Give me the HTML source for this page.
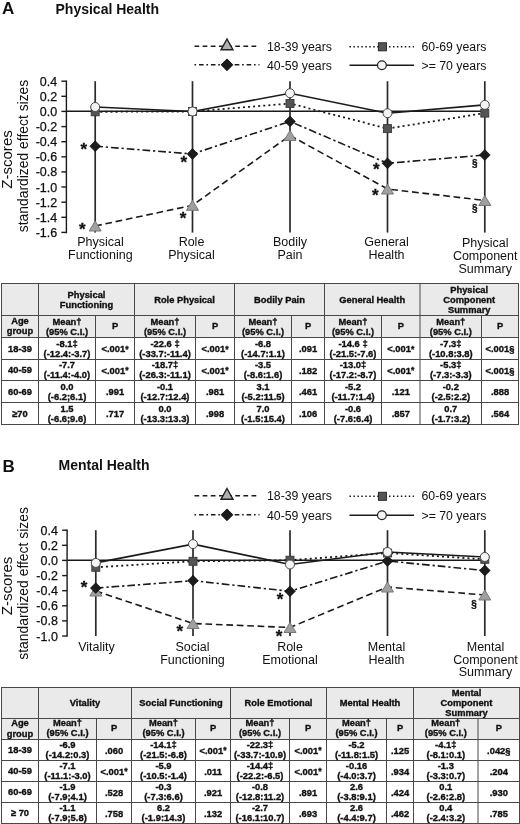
<!DOCTYPE html>
<html><head><meta charset="utf-8"><title>Figure</title>
<style>
html,body{margin:0;padding:0;background:#fff;}
body{width:520px;height:824px;overflow:hidden;font-family:"Liberation Sans", sans-serif;}
svg{display:block;font-family:"Liberation Sans", sans-serif;filter:grayscale(1);}
text{font-family:"Liberation Sans", sans-serif;fill:#111;}
.t{font-size:12.5px;}
.tk{font-size:12.5px;stroke:#111;stroke-width:0.25px;}
.lg{font-size:12.3px;}
.b{font-weight:bold;}
.th{font-size:9.33px;font-weight:bold;stroke:#111;stroke-width:0.35px;}
.td{font-size:9.4px;font-weight:bold;stroke:#111;stroke-width:0.35px;}
</style></head><body>
<svg width="520" height="824" viewBox="0 0 520 824">
<rect x="0" y="0" width="520" height="824" fill="#ffffff"/>
<text x="2.1" y="14.4" class="b" style="font-size:17px">A</text>
<text x="55.5" y="13.7" class="b" style="font-size:14px">Physical Health</text>
<line x1="194.5" y1="46.3" x2="259.5" y2="46.3" stroke="#1a1a1a" stroke-width="1.4" stroke-dasharray="4.7,3.45"/>
<polygon points="227.0,39.0 233.0,49.8 221.0,49.8" fill="#b0b0b0" stroke="#222" stroke-width="1.4" stroke-linejoin="miter"/>
<line x1="194.5" y1="64.8" x2="259.5" y2="64.8" stroke="#1a1a1a" stroke-width="1.4" stroke-dasharray="1.6,2.9,4.6,2.8"/>
<polygon points="227.0,58.9 232.9,64.8 227.0,70.7 221.1,64.8" fill="#1c1c1c" stroke="#000" stroke-width="0.8"/>
<text x="267" y="50.9" class="lg">18-39 years</text>
<text x="267" y="69.8" class="lg">40-59 years</text>
<line x1="349.5" y1="46.8" x2="414.0" y2="46.8" stroke="#1a1a1a" stroke-width="1.6" stroke-dasharray="1.5,2.45"/>
<rect x="378.4" y="42.8" width="8.0" height="8.0" fill="#555555" stroke="#2a2a2a" stroke-width="1.0"/>
<line x1="349.5" y1="65.3" x2="414.0" y2="65.3" stroke="#1a1a1a" stroke-width="1.4"/>
<circle cx="381.9" cy="65.3" r="4.4" fill="#f4f4f4" stroke="#222" stroke-width="1.2"/>
<text x="421.5" y="50.9" class="lg">60-69 years</text>
<text x="421.5" y="69.8" class="lg">&gt;= 70 years</text>
<text transform="translate(12.4,159.5) rotate(-90)" text-anchor="middle" textLength="58.6" lengthAdjust="spacingAndGlyphs" style="font-size:14.4px">Z-scores</text>
<text transform="translate(28.3,156.0) rotate(-90)" text-anchor="middle" textLength="152.6" lengthAdjust="spacingAndGlyphs" style="font-size:13.9px">standardized effect sizes</text>
<line x1="66.4" y1="80.5" x2="66.4" y2="233.3" stroke="#1a1a1a" stroke-width="1.4"/>
<line x1="61.4" y1="81.2" x2="66.4" y2="81.2" stroke="#1a1a1a" stroke-width="1.4"/>
<text x="57.2" y="85.7" text-anchor="end" class="tk">0.4</text>
<line x1="61.4" y1="96.3" x2="66.4" y2="96.3" stroke="#1a1a1a" stroke-width="1.4"/>
<text x="57.2" y="100.8" text-anchor="end" class="tk">0.2</text>
<line x1="61.4" y1="111.4" x2="66.4" y2="111.4" stroke="#1a1a1a" stroke-width="1.4"/>
<text x="57.2" y="115.9" text-anchor="end" class="tk">0.0</text>
<line x1="61.4" y1="126.6" x2="66.4" y2="126.6" stroke="#1a1a1a" stroke-width="1.4"/>
<text x="57.2" y="131.1" text-anchor="end" class="tk">-0.2</text>
<line x1="61.4" y1="141.7" x2="66.4" y2="141.7" stroke="#1a1a1a" stroke-width="1.4"/>
<text x="57.2" y="146.2" text-anchor="end" class="tk">-0.4</text>
<line x1="61.4" y1="156.8" x2="66.4" y2="156.8" stroke="#1a1a1a" stroke-width="1.4"/>
<text x="57.2" y="161.3" text-anchor="end" class="tk">-0.6</text>
<line x1="61.4" y1="171.9" x2="66.4" y2="171.9" stroke="#1a1a1a" stroke-width="1.4"/>
<text x="57.2" y="176.4" text-anchor="end" class="tk">-0.8</text>
<line x1="61.4" y1="187.0" x2="66.4" y2="187.0" stroke="#1a1a1a" stroke-width="1.4"/>
<text x="57.2" y="191.5" text-anchor="end" class="tk">-1.0</text>
<line x1="61.4" y1="202.2" x2="66.4" y2="202.2" stroke="#1a1a1a" stroke-width="1.4"/>
<text x="57.2" y="206.7" text-anchor="end" class="tk">-1.2</text>
<line x1="61.4" y1="217.3" x2="66.4" y2="217.3" stroke="#1a1a1a" stroke-width="1.4"/>
<text x="57.2" y="221.8" text-anchor="end" class="tk">-1.4</text>
<line x1="61.4" y1="232.4" x2="66.4" y2="232.4" stroke="#1a1a1a" stroke-width="1.4"/>
<text x="57.2" y="236.9" text-anchor="end" class="tk">-1.6</text>
<line x1="66.4" y1="111.3" x2="484.8" y2="111.3" stroke="#1a1a1a" stroke-width="1.5"/>
<line x1="95.2" y1="81.2" x2="95.2" y2="232.6" stroke="#2a2a2a" stroke-width="1.7"/>
<line x1="192.5" y1="81.2" x2="192.5" y2="232.6" stroke="#2a2a2a" stroke-width="1.7"/>
<line x1="290.0" y1="81.2" x2="290.0" y2="232.6" stroke="#2a2a2a" stroke-width="1.7"/>
<line x1="387.5" y1="81.2" x2="387.5" y2="232.6" stroke="#2a2a2a" stroke-width="1.7"/>
<line x1="484.8" y1="81.2" x2="484.8" y2="232.6" stroke="#2a2a2a" stroke-width="1.7"/>
<polyline points="95.2,226.0 192.5,205.3 290.0,135.5 387.5,189.0 484.8,200.5" fill="none" stroke="#1a1a1a" stroke-width="1.6" stroke-dasharray="6.7,3.75"/>
<polygon points="95.2,221.0 101.2,231.0 89.2,231.0" fill="#a0a0a0" stroke="#787878" stroke-width="1.0" stroke-linejoin="miter"/>
<polygon points="192.5,200.3 198.5,210.3 186.5,210.3" fill="#a0a0a0" stroke="#787878" stroke-width="1.0" stroke-linejoin="miter"/>
<polygon points="290.0,130.5 296.0,140.5 284.0,140.5" fill="#a0a0a0" stroke="#787878" stroke-width="1.0" stroke-linejoin="miter"/>
<polygon points="387.5,184.0 393.5,194.0 381.5,194.0" fill="#a0a0a0" stroke="#787878" stroke-width="1.0" stroke-linejoin="miter"/>
<polygon points="484.8,195.5 490.8,205.5 478.8,205.5" fill="#a0a0a0" stroke="#787878" stroke-width="1.0" stroke-linejoin="miter"/>
<polyline points="95.2,146.2 192.5,154.0 290.0,121.4 387.5,163.3 484.8,155.0" fill="none" stroke="#1a1a1a" stroke-width="1.6" stroke-dasharray="7.7,2.9,2.3,2.9"/>
<polygon points="95.2,140.8 100.6,146.2 95.2,151.6 89.8,146.2" fill="#1c1c1c" stroke="#000" stroke-width="0.6"/>
<polygon points="192.5,148.6 197.9,154.0 192.5,159.4 187.1,154.0" fill="#1c1c1c" stroke="#000" stroke-width="0.6"/>
<polygon points="290.0,116.0 295.4,121.4 290.0,126.8 284.6,121.4" fill="#1c1c1c" stroke="#000" stroke-width="0.6"/>
<polygon points="387.5,157.9 392.9,163.3 387.5,168.7 382.1,163.3" fill="#1c1c1c" stroke="#000" stroke-width="0.6"/>
<polygon points="484.8,149.6 490.2,155.0 484.8,160.4 479.4,155.0" fill="#1c1c1c" stroke="#000" stroke-width="0.6"/>
<polyline points="95.2,111.8 192.5,111.5 290.0,103.5 387.5,128.6 484.8,113.1" fill="none" stroke="#1a1a1a" stroke-width="1.8" stroke-dasharray="2.0,3.1"/>
<rect x="91.2" y="107.8" width="8.0" height="8.0" fill="#555555" stroke="#3a3a3a" stroke-width="0.9"/>
<rect x="188.5" y="107.5" width="8.0" height="8.0" fill="#555555" stroke="#3a3a3a" stroke-width="0.9"/>
<rect x="286.0" y="99.5" width="8.0" height="8.0" fill="#555555" stroke="#3a3a3a" stroke-width="0.9"/>
<rect x="383.5" y="124.6" width="8.0" height="8.0" fill="#555555" stroke="#3a3a3a" stroke-width="0.9"/>
<rect x="480.8" y="109.1" width="8.0" height="8.0" fill="#555555" stroke="#3a3a3a" stroke-width="0.9"/>
<polyline points="95.2,107.0 192.5,111.5 290.0,93.2 387.5,113.2 484.8,104.9" fill="none" stroke="#1a1a1a" stroke-width="1.6"/>
<circle cx="95.2" cy="107.0" r="4.5" fill="#f4f4f4" stroke="#484848" stroke-width="1.0"/>
<circle cx="192.5" cy="111.5" r="4.5" fill="#f4f4f4" stroke="#484848" stroke-width="1.0"/>
<circle cx="290.0" cy="93.2" r="4.5" fill="#f4f4f4" stroke="#484848" stroke-width="1.0"/>
<circle cx="387.5" cy="113.2" r="4.5" fill="#f4f4f4" stroke="#484848" stroke-width="1.0"/>
<circle cx="484.8" cy="104.9" r="4.5" fill="#f4f4f4" stroke="#484848" stroke-width="1.0"/>
<text x="83.7" y="155.2" text-anchor="middle" class="b" style="font-size:17px;stroke:#111;stroke-width:0.3px">*</text>
<text x="82.3" y="234.7" text-anchor="middle" class="b" style="font-size:17px;stroke:#111;stroke-width:0.3px">*</text>
<text x="183.7" y="168.2" text-anchor="middle" class="b" style="font-size:17px;stroke:#111;stroke-width:0.3px">*</text>
<text x="183.0" y="224.2" text-anchor="middle" class="b" style="font-size:17px;stroke:#111;stroke-width:0.3px">*</text>
<text x="376.3" y="175.0" text-anchor="middle" class="b" style="font-size:17px;stroke:#111;stroke-width:0.3px">*</text>
<text x="375.3" y="201.2" text-anchor="middle" class="b" style="font-size:17px;stroke:#111;stroke-width:0.3px">*</text>
<text x="474.7" y="167.2" text-anchor="middle" class="b" style="font-size:10px;stroke:#111;stroke-width:0.3px">&#167;</text>
<text x="474.7" y="212.2" text-anchor="middle" class="b" style="font-size:10px;stroke:#111;stroke-width:0.3px">&#167;</text>
<text x="100.4" y="246.0" text-anchor="middle" class="t">Physical</text>
<text x="100.4" y="259.2" text-anchor="middle" class="t">Functioning</text>
<text x="191.5" y="246.0" text-anchor="middle" class="t">Role</text>
<text x="191.5" y="259.2" text-anchor="middle" class="t">Physical</text>
<text x="290.0" y="246.0" text-anchor="middle" class="t">Bodily</text>
<text x="290.0" y="259.2" text-anchor="middle" class="t">Pain</text>
<text x="386.5" y="246.0" text-anchor="middle" class="t">General</text>
<text x="386.5" y="259.2" text-anchor="middle" class="t">Health</text>
<text x="485.2" y="246.8" text-anchor="middle" class="t">Physical</text>
<text x="485.2" y="260.0" text-anchor="middle" class="t">Component</text>
<text x="485.2" y="273.2" text-anchor="middle" class="t">Summary</text>
<text x="2.5" y="471.8" class="b" style="font-size:17px">B</text>
<text x="58.5" y="469.6" class="b" style="font-size:14px">Mental Health</text>
<line x1="194.5" y1="495.8" x2="259.5" y2="495.8" stroke="#1a1a1a" stroke-width="1.4" stroke-dasharray="4.7,3.45"/>
<polygon points="227.0,488.5 233.0,499.3 221.0,499.3" fill="#b0b0b0" stroke="#222" stroke-width="1.4" stroke-linejoin="miter"/>
<line x1="194.5" y1="514.8" x2="259.5" y2="514.8" stroke="#1a1a1a" stroke-width="1.4" stroke-dasharray="1.6,2.9,4.6,2.8"/>
<polygon points="227.0,508.9 232.9,514.8 227.0,520.7 221.1,514.8" fill="#1c1c1c" stroke="#000" stroke-width="0.8"/>
<text x="267" y="500.4" class="lg">18-39 years</text>
<text x="267" y="519.8" class="lg">40-59 years</text>
<line x1="349.5" y1="496.3" x2="414.0" y2="496.3" stroke="#1a1a1a" stroke-width="1.6" stroke-dasharray="1.5,2.45"/>
<rect x="378.4" y="492.3" width="8.0" height="8.0" fill="#555555" stroke="#2a2a2a" stroke-width="1.0"/>
<line x1="349.5" y1="515.3" x2="414.0" y2="515.3" stroke="#1a1a1a" stroke-width="1.4"/>
<circle cx="381.9" cy="515.3" r="4.4" fill="#f4f4f4" stroke="#222" stroke-width="1.2"/>
<text x="421.5" y="500.4" class="lg">60-69 years</text>
<text x="421.5" y="519.8" class="lg">&gt;= 70 years</text>
<text transform="translate(12.4,585.9) rotate(-90)" text-anchor="middle" textLength="58.6" lengthAdjust="spacingAndGlyphs" style="font-size:14.4px">Z-scores</text>
<text transform="translate(28.3,583.4) rotate(-90)" text-anchor="middle" textLength="152.6" lengthAdjust="spacingAndGlyphs" style="font-size:13.9px">standardized effect sizes</text>
<line x1="67.1" y1="529.5" x2="67.1" y2="636.7" stroke="#1a1a1a" stroke-width="1.4"/>
<line x1="62.1" y1="530.2" x2="67.1" y2="530.2" stroke="#1a1a1a" stroke-width="1.4"/>
<text x="57.9" y="534.7" text-anchor="end" class="tk">0.4</text>
<line x1="62.1" y1="545.3" x2="67.1" y2="545.3" stroke="#1a1a1a" stroke-width="1.4"/>
<text x="57.9" y="549.8" text-anchor="end" class="tk">0.2</text>
<line x1="62.1" y1="560.4" x2="67.1" y2="560.4" stroke="#1a1a1a" stroke-width="1.4"/>
<text x="57.9" y="564.9" text-anchor="end" class="tk">0.0</text>
<line x1="62.1" y1="575.6" x2="67.1" y2="575.6" stroke="#1a1a1a" stroke-width="1.4"/>
<text x="57.9" y="580.1" text-anchor="end" class="tk">-0.2</text>
<line x1="62.1" y1="590.7" x2="67.1" y2="590.7" stroke="#1a1a1a" stroke-width="1.4"/>
<text x="57.9" y="595.2" text-anchor="end" class="tk">-0.4</text>
<line x1="62.1" y1="605.8" x2="67.1" y2="605.8" stroke="#1a1a1a" stroke-width="1.4"/>
<text x="57.9" y="610.3" text-anchor="end" class="tk">-0.6</text>
<line x1="62.1" y1="620.9" x2="67.1" y2="620.9" stroke="#1a1a1a" stroke-width="1.4"/>
<text x="57.9" y="625.4" text-anchor="end" class="tk">-0.8</text>
<line x1="62.1" y1="636.0" x2="67.1" y2="636.0" stroke="#1a1a1a" stroke-width="1.4"/>
<text x="57.9" y="640.5" text-anchor="end" class="tk">-1.0</text>
<line x1="67.1" y1="560.3" x2="484.8" y2="560.3" stroke="#1a1a1a" stroke-width="1.5"/>
<line x1="95.8" y1="530.2" x2="95.8" y2="636.0" stroke="#2a2a2a" stroke-width="1.7"/>
<line x1="193.0" y1="530.2" x2="193.0" y2="636.0" stroke="#2a2a2a" stroke-width="1.7"/>
<line x1="290.0" y1="530.2" x2="290.0" y2="636.0" stroke="#2a2a2a" stroke-width="1.7"/>
<line x1="387.5" y1="530.2" x2="387.5" y2="636.0" stroke="#2a2a2a" stroke-width="1.7"/>
<line x1="484.8" y1="530.2" x2="484.8" y2="636.0" stroke="#2a2a2a" stroke-width="1.7"/>
<polyline points="95.8,591.0 193.0,623.5 290.0,627.5 387.5,587.0 484.8,595.0" fill="none" stroke="#1a1a1a" stroke-width="1.6" stroke-dasharray="6.7,3.75"/>
<polygon points="95.8,586.0 101.8,596.0 89.8,596.0" fill="#a0a0a0" stroke="#787878" stroke-width="1.0" stroke-linejoin="miter"/>
<polygon points="193.0,618.5 199.0,628.5 187.0,628.5" fill="#a0a0a0" stroke="#787878" stroke-width="1.0" stroke-linejoin="miter"/>
<polygon points="290.0,622.5 296.0,632.5 284.0,632.5" fill="#a0a0a0" stroke="#787878" stroke-width="1.0" stroke-linejoin="miter"/>
<polygon points="387.5,582.0 393.5,592.0 381.5,592.0" fill="#a0a0a0" stroke="#787878" stroke-width="1.0" stroke-linejoin="miter"/>
<polygon points="484.8,590.0 490.8,600.0 478.8,600.0" fill="#a0a0a0" stroke="#787878" stroke-width="1.0" stroke-linejoin="miter"/>
<polyline points="95.8,588.1 193.0,580.7 290.0,591.3 387.5,561.0 484.8,570.5" fill="none" stroke="#1a1a1a" stroke-width="1.6" stroke-dasharray="7.7,2.9,2.3,2.9"/>
<polygon points="95.8,582.7 101.2,588.1 95.8,593.5 90.4,588.1" fill="#1c1c1c" stroke="#000" stroke-width="0.6"/>
<polygon points="193.0,575.3 198.4,580.7 193.0,586.1 187.6,580.7" fill="#1c1c1c" stroke="#000" stroke-width="0.6"/>
<polygon points="290.0,585.9 295.4,591.3 290.0,596.7 284.6,591.3" fill="#1c1c1c" stroke="#000" stroke-width="0.6"/>
<polygon points="387.5,555.6 392.9,561.0 387.5,566.4 382.1,561.0" fill="#1c1c1c" stroke="#000" stroke-width="0.6"/>
<polygon points="484.8,565.1 490.2,570.5 484.8,575.9 479.4,570.5" fill="#1c1c1c" stroke="#000" stroke-width="0.6"/>
<polyline points="95.8,567.3 193.0,561.3 290.0,560.2 387.5,553.0 484.8,559.3" fill="none" stroke="#1a1a1a" stroke-width="1.8" stroke-dasharray="2.0,3.1"/>
<rect x="91.8" y="563.3" width="8.0" height="8.0" fill="#555555" stroke="#3a3a3a" stroke-width="0.9"/>
<rect x="189.0" y="557.3" width="8.0" height="8.0" fill="#555555" stroke="#3a3a3a" stroke-width="0.9"/>
<rect x="286.0" y="556.2" width="8.0" height="8.0" fill="#555555" stroke="#3a3a3a" stroke-width="0.9"/>
<rect x="383.5" y="549.0" width="8.0" height="8.0" fill="#555555" stroke="#3a3a3a" stroke-width="0.9"/>
<rect x="480.8" y="555.3" width="8.0" height="8.0" fill="#555555" stroke="#3a3a3a" stroke-width="0.9"/>
<polyline points="95.8,562.9 193.0,544.1 290.0,564.5 387.5,552.0 484.8,557.0" fill="none" stroke="#1a1a1a" stroke-width="1.6"/>
<circle cx="95.8" cy="562.9" r="4.5" fill="#f4f4f4" stroke="#484848" stroke-width="1.0"/>
<circle cx="193.0" cy="544.1" r="4.5" fill="#f4f4f4" stroke="#484848" stroke-width="1.0"/>
<circle cx="290.0" cy="564.5" r="4.5" fill="#f4f4f4" stroke="#484848" stroke-width="1.0"/>
<circle cx="387.5" cy="552.0" r="4.5" fill="#f4f4f4" stroke="#484848" stroke-width="1.0"/>
<circle cx="484.8" cy="557.0" r="4.5" fill="#f4f4f4" stroke="#484848" stroke-width="1.0"/>
<text x="84.0" y="592.6" text-anchor="middle" class="b" style="font-size:17px;stroke:#111;stroke-width:0.3px">*</text>
<text x="179.7" y="637.0" text-anchor="middle" class="b" style="font-size:17px;stroke:#111;stroke-width:0.3px">*</text>
<text x="280.0" y="605.2" text-anchor="middle" class="b" style="font-size:17px;stroke:#111;stroke-width:0.3px">*</text>
<text x="279.0" y="642.2" text-anchor="middle" class="b" style="font-size:17px;stroke:#111;stroke-width:0.3px">*</text>
<text x="474.0" y="607.6" text-anchor="middle" class="b" style="font-size:10px;stroke:#111;stroke-width:0.3px">&#167;</text>
<text x="96.5" y="650.8" text-anchor="middle" class="t">Vitality</text>
<text x="192.5" y="650.8" text-anchor="middle" class="t">Social</text>
<text x="192.5" y="663.6" text-anchor="middle" class="t">Functioning</text>
<text x="290.0" y="650.8" text-anchor="middle" class="t">Role</text>
<text x="290.0" y="663.6" text-anchor="middle" class="t">Emotional</text>
<text x="386.5" y="650.8" text-anchor="middle" class="t">Mental</text>
<text x="386.5" y="663.6" text-anchor="middle" class="t">Health</text>
<text x="485.5" y="650.8" text-anchor="middle" class="t">Mental</text>
<text x="485.5" y="663.6" text-anchor="middle" class="t">Component</text>
<text x="485.5" y="676.4" text-anchor="middle" class="t">Summary</text>
<rect x="1.5" y="283.5" width="517.0" height="54.0" fill="#eaeaea"/>
<line x1="1.0" y1="283.5" x2="519.0" y2="283.5" stroke="#484848" stroke-width="1"/>
<line x1="1.0" y1="315.5" x2="519.0" y2="315.5" stroke="#484848" stroke-width="1"/>
<line x1="1.0" y1="337.5" x2="519.0" y2="337.5" stroke="#484848" stroke-width="1"/>
<line x1="1.0" y1="359.5" x2="519.0" y2="359.5" stroke="#484848" stroke-width="1"/>
<line x1="1.0" y1="380.5" x2="519.0" y2="380.5" stroke="#484848" stroke-width="1"/>
<line x1="1.0" y1="402.5" x2="519.0" y2="402.5" stroke="#484848" stroke-width="1"/>
<line x1="1.0" y1="424.5" x2="519.0" y2="424.5" stroke="#484848" stroke-width="1"/>
<line x1="1.5" y1="283.5" x2="1.5" y2="424.5" stroke="#484848" stroke-width="1"/>
<line x1="38.5" y1="283.5" x2="38.5" y2="424.5" stroke="#484848" stroke-width="1"/>
<line x1="95.5" y1="315.5" x2="95.5" y2="424.5" stroke="#484848" stroke-width="1"/>
<line x1="134.5" y1="283.5" x2="134.5" y2="424.5" stroke="#484848" stroke-width="1"/>
<line x1="195.5" y1="315.5" x2="195.5" y2="424.5" stroke="#484848" stroke-width="1"/>
<line x1="234.5" y1="283.5" x2="234.5" y2="424.5" stroke="#484848" stroke-width="1"/>
<line x1="291.5" y1="315.5" x2="291.5" y2="424.5" stroke="#484848" stroke-width="1"/>
<line x1="324.5" y1="283.5" x2="324.5" y2="424.5" stroke="#484848" stroke-width="1"/>
<line x1="381.5" y1="315.5" x2="381.5" y2="424.5" stroke="#484848" stroke-width="1"/>
<line x1="420.0" y1="283.5" x2="420.0" y2="424.5" stroke="#484848" stroke-width="1"/>
<line x1="481.5" y1="315.5" x2="481.5" y2="424.5" stroke="#484848" stroke-width="1"/>
<line x1="518.5" y1="283.5" x2="518.5" y2="424.5" stroke="#484848" stroke-width="1"/>
<text x="86.5" y="297.8" text-anchor="middle" class="th">Physical</text>
<text x="86.5" y="308.0" text-anchor="middle" class="th">Functioning</text>
<text x="184.5" y="302.9" text-anchor="middle" class="th">Role Physical</text>
<text x="279.5" y="302.9" text-anchor="middle" class="th">Bodily Pain</text>
<text x="372.2" y="302.9" text-anchor="middle" class="th">General Health</text>
<text x="469.2" y="292.7" text-anchor="middle" class="th">Physical</text>
<text x="469.2" y="302.9" text-anchor="middle" class="th">Component</text>
<text x="469.2" y="313.1" text-anchor="middle" class="th">Summary</text>
<text x="20.0" y="323.9" text-anchor="middle" class="th">Age</text>
<text x="20.0" y="334.1" text-anchor="middle" class="th">group</text>
<text x="67.0" y="324.6" text-anchor="middle" class="th">Mean&#8224;</text>
<text x="67.0" y="335.0" text-anchor="middle" class="th">(95% C.I.)</text>
<text x="115.0" y="329.1" text-anchor="middle" class="th">P</text>
<text x="165.0" y="324.6" text-anchor="middle" class="th">Mean&#8224;</text>
<text x="165.0" y="335.0" text-anchor="middle" class="th">(95% C.I.)</text>
<text x="215.0" y="329.1" text-anchor="middle" class="th">P</text>
<text x="263.0" y="324.6" text-anchor="middle" class="th">Mean&#8224;</text>
<text x="263.0" y="335.0" text-anchor="middle" class="th">(95% C.I.)</text>
<text x="308.0" y="329.1" text-anchor="middle" class="th">P</text>
<text x="353.0" y="324.6" text-anchor="middle" class="th">Mean&#8224;</text>
<text x="353.0" y="335.0" text-anchor="middle" class="th">(95% C.I.)</text>
<text x="400.8" y="329.1" text-anchor="middle" class="th">P</text>
<text x="450.8" y="324.6" text-anchor="middle" class="th">Mean&#8224;</text>
<text x="450.8" y="335.0" text-anchor="middle" class="th">(95% C.I.)</text>
<text x="500.0" y="329.1" text-anchor="middle" class="th">P</text>
<text x="20.0" y="351.5" text-anchor="middle" class="th">18-39</text>
<text x="67.0" y="346.9" text-anchor="middle" class="td">-8.1&#8225;</text>
<text x="67.0" y="356.7" text-anchor="middle" class="td">(-12.4:-3.7)</text>
<text x="115.0" y="352.1" text-anchor="middle" class="td">&lt;.001<tspan style="font-size:8.6px" dy="-0.3">*</tspan></text>
<text x="165.0" y="346.9" text-anchor="middle" class="td">-22.6 &#8225;</text>
<text x="165.0" y="356.7" text-anchor="middle" class="td">(-33.7:-11.4)</text>
<text x="215.0" y="352.1" text-anchor="middle" class="td">&lt;.001<tspan style="font-size:8.6px" dy="-0.3">*</tspan></text>
<text x="263.0" y="346.9" text-anchor="middle" class="td">-6.8</text>
<text x="263.0" y="356.7" text-anchor="middle" class="td">(-14.7:1.1)</text>
<text x="308.0" y="352.1" text-anchor="middle" class="td">.091</text>
<text x="353.0" y="346.9" text-anchor="middle" class="td">-14.6 &#8225;</text>
<text x="353.0" y="356.7" text-anchor="middle" class="td">(-21.5:-7.6)</text>
<text x="400.8" y="352.1" text-anchor="middle" class="td">&lt;.001<tspan style="font-size:8.6px" dy="-0.3">*</tspan></text>
<text x="450.8" y="346.9" text-anchor="middle" class="td">-7.3&#8225;</text>
<text x="450.8" y="356.7" text-anchor="middle" class="td">(-10.8:3.8)</text>
<text x="500.0" y="352.1" text-anchor="middle" class="td">&lt;.001&#167;</text>
<text x="20.0" y="373.0" text-anchor="middle" class="th">40-59</text>
<text x="67.0" y="368.4" text-anchor="middle" class="td">-7.7</text>
<text x="67.0" y="378.2" text-anchor="middle" class="td">(-11.4:-4.0)</text>
<text x="115.0" y="373.6" text-anchor="middle" class="td">&lt;.001<tspan style="font-size:8.6px" dy="-0.3">*</tspan></text>
<text x="165.0" y="368.4" text-anchor="middle" class="td">-18.7&#8225;</text>
<text x="165.0" y="378.2" text-anchor="middle" class="td">(-26.3:-11.1)</text>
<text x="215.0" y="373.6" text-anchor="middle" class="td">&lt;.001<tspan style="font-size:8.6px" dy="-0.3">*</tspan></text>
<text x="263.0" y="368.4" text-anchor="middle" class="td">-3.5</text>
<text x="263.0" y="378.2" text-anchor="middle" class="td">(-8.6:1.6)</text>
<text x="308.0" y="373.6" text-anchor="middle" class="td">.182</text>
<text x="353.0" y="368.4" text-anchor="middle" class="td">-13.0&#8225;</text>
<text x="353.0" y="378.2" text-anchor="middle" class="td">(-17.2:-8.7)</text>
<text x="400.8" y="373.6" text-anchor="middle" class="td">&lt;.001<tspan style="font-size:8.6px" dy="-0.3">*</tspan></text>
<text x="450.8" y="368.4" text-anchor="middle" class="td">-5.3&#8225;</text>
<text x="450.8" y="378.2" text-anchor="middle" class="td">(-7.3:-3.3)</text>
<text x="500.0" y="373.6" text-anchor="middle" class="td">&lt;.001&#167;</text>
<text x="20.0" y="394.5" text-anchor="middle" class="th">60-69</text>
<text x="67.0" y="389.9" text-anchor="middle" class="td">0.0</text>
<text x="67.0" y="399.7" text-anchor="middle" class="td">(-6.2;6.1)</text>
<text x="115.0" y="395.1" text-anchor="middle" class="td">.991</text>
<text x="165.0" y="389.9" text-anchor="middle" class="td">-0.1</text>
<text x="165.0" y="399.7" text-anchor="middle" class="td">(-12.7:12.4)</text>
<text x="215.0" y="395.1" text-anchor="middle" class="td">.981</text>
<text x="263.0" y="389.9" text-anchor="middle" class="td">3.1</text>
<text x="263.0" y="399.7" text-anchor="middle" class="td">(-5.2:11.5)</text>
<text x="308.0" y="395.1" text-anchor="middle" class="td">.461</text>
<text x="353.0" y="389.9" text-anchor="middle" class="td">-5.2</text>
<text x="353.0" y="399.7" text-anchor="middle" class="td">(-11.7:1.4)</text>
<text x="400.8" y="395.1" text-anchor="middle" class="td">.121</text>
<text x="450.8" y="389.9" text-anchor="middle" class="td">-0.2</text>
<text x="450.8" y="399.7" text-anchor="middle" class="td">(-2.5:2.2)</text>
<text x="500.0" y="395.1" text-anchor="middle" class="td">.888</text>
<text x="20.0" y="416.5" text-anchor="middle" class="th">&#8805;70</text>
<text x="67.0" y="411.9" text-anchor="middle" class="td">1.5</text>
<text x="67.0" y="421.7" text-anchor="middle" class="td">(-6.6;9.6)</text>
<text x="115.0" y="417.1" text-anchor="middle" class="td">.717</text>
<text x="165.0" y="411.9" text-anchor="middle" class="td">0.0</text>
<text x="165.0" y="421.7" text-anchor="middle" class="td">(-13.3:13.3)</text>
<text x="215.0" y="417.1" text-anchor="middle" class="td">.998</text>
<text x="263.0" y="411.9" text-anchor="middle" class="td">7.0</text>
<text x="263.0" y="421.7" text-anchor="middle" class="td">(-1.5:15.4)</text>
<text x="308.0" y="417.1" text-anchor="middle" class="td">.106</text>
<text x="353.0" y="411.9" text-anchor="middle" class="td">-0.6</text>
<text x="353.0" y="421.7" text-anchor="middle" class="td">(-7.6:6.4)</text>
<text x="400.8" y="417.1" text-anchor="middle" class="td">.857</text>
<text x="450.8" y="411.9" text-anchor="middle" class="td">0.7</text>
<text x="450.8" y="421.7" text-anchor="middle" class="td">(-1.7:3.2)</text>
<text x="500.0" y="417.1" text-anchor="middle" class="td">.564</text>
<rect x="1.5" y="687.5" width="518.0" height="52.0" fill="#eaeaea"/>
<line x1="1.0" y1="687.5" x2="520.0" y2="687.5" stroke="#484848" stroke-width="1"/>
<line x1="1.0" y1="718.5" x2="520.0" y2="718.5" stroke="#484848" stroke-width="1"/>
<line x1="1.0" y1="739.5" x2="520.0" y2="739.5" stroke="#484848" stroke-width="1"/>
<line x1="1.0" y1="760.5" x2="520.0" y2="760.5" stroke="#484848" stroke-width="1"/>
<line x1="1.0" y1="781.5" x2="520.0" y2="781.5" stroke="#484848" stroke-width="1"/>
<line x1="1.0" y1="802.5" x2="520.0" y2="802.5" stroke="#484848" stroke-width="1"/>
<line x1="1.0" y1="823.5" x2="520.0" y2="823.5" stroke="#484848" stroke-width="1"/>
<line x1="1.5" y1="687.5" x2="1.5" y2="823.5" stroke="#484848" stroke-width="1"/>
<line x1="38.5" y1="687.5" x2="38.5" y2="823.5" stroke="#484848" stroke-width="1"/>
<line x1="96.5" y1="718.5" x2="96.5" y2="823.5" stroke="#484848" stroke-width="1"/>
<line x1="131.5" y1="687.5" x2="131.5" y2="823.5" stroke="#484848" stroke-width="1"/>
<line x1="195.5" y1="718.5" x2="195.5" y2="823.5" stroke="#484848" stroke-width="1"/>
<line x1="230.5" y1="687.5" x2="230.5" y2="823.5" stroke="#484848" stroke-width="1"/>
<line x1="289.5" y1="718.5" x2="289.5" y2="823.5" stroke="#484848" stroke-width="1"/>
<line x1="326.5" y1="687.5" x2="326.5" y2="823.5" stroke="#484848" stroke-width="1"/>
<line x1="386.5" y1="718.5" x2="386.5" y2="823.5" stroke="#484848" stroke-width="1"/>
<line x1="413.5" y1="687.5" x2="413.5" y2="823.5" stroke="#484848" stroke-width="1"/>
<line x1="478.0" y1="718.5" x2="478.0" y2="823.5" stroke="#484848" stroke-width="1"/>
<line x1="519.5" y1="687.5" x2="519.5" y2="823.5" stroke="#484848" stroke-width="1"/>
<text x="85.0" y="706.4" text-anchor="middle" class="th">Vitality</text>
<text x="181.0" y="706.4" text-anchor="middle" class="th">Social Functioning</text>
<text x="278.5" y="706.4" text-anchor="middle" class="th">Role Emotional</text>
<text x="370.0" y="706.4" text-anchor="middle" class="th">Mental Health</text>
<text x="466.5" y="695.6" text-anchor="middle" class="th">Mental</text>
<text x="466.5" y="705.8" text-anchor="middle" class="th">Component</text>
<text x="466.5" y="716.0" text-anchor="middle" class="th">Summary</text>
<text x="20.0" y="726.4" text-anchor="middle" class="th">Age</text>
<text x="20.0" y="736.6" text-anchor="middle" class="th">group</text>
<text x="67.5" y="726.1" text-anchor="middle" class="th">Mean&#8224;</text>
<text x="67.5" y="736.0" text-anchor="middle" class="th">(95% C.I.)</text>
<text x="114.0" y="731.4" text-anchor="middle" class="th">P</text>
<text x="163.5" y="726.1" text-anchor="middle" class="th">Mean&#8224;</text>
<text x="163.5" y="736.0" text-anchor="middle" class="th">(95% C.I.)</text>
<text x="213.0" y="731.4" text-anchor="middle" class="th">P</text>
<text x="260.0" y="726.1" text-anchor="middle" class="th">Mean&#8224;</text>
<text x="260.0" y="736.0" text-anchor="middle" class="th">(95% C.I.)</text>
<text x="308.0" y="731.4" text-anchor="middle" class="th">P</text>
<text x="356.5" y="726.1" text-anchor="middle" class="th">Mean&#8224;</text>
<text x="356.5" y="736.0" text-anchor="middle" class="th">(95% C.I.)</text>
<text x="400.0" y="731.4" text-anchor="middle" class="th">P</text>
<text x="445.8" y="726.1" text-anchor="middle" class="th">Mean&#8224;</text>
<text x="445.8" y="736.0" text-anchor="middle" class="th">(95% C.I.)</text>
<text x="498.8" y="731.4" text-anchor="middle" class="th">P</text>
<text x="20.0" y="753.0" text-anchor="middle" class="th">18-39</text>
<text x="67.5" y="748.4" text-anchor="middle" class="td">-6.9</text>
<text x="67.5" y="758.2" text-anchor="middle" class="td">(-14.2:0.3)</text>
<text x="114.0" y="753.6" text-anchor="middle" class="td">.060</text>
<text x="163.5" y="748.4" text-anchor="middle" class="td">-14.1&#8225;</text>
<text x="163.5" y="758.2" text-anchor="middle" class="td">(-21.5:-6.8)</text>
<text x="213.0" y="753.6" text-anchor="middle" class="td">&lt;.001<tspan style="font-size:8.6px" dy="-0.3">*</tspan></text>
<text x="260.0" y="748.4" text-anchor="middle" class="td">-22.3&#8225;</text>
<text x="260.0" y="758.2" text-anchor="middle" class="td">(-33.7:-10.9)</text>
<text x="308.0" y="753.6" text-anchor="middle" class="td">&lt;.001<tspan style="font-size:8.6px" dy="-0.3">*</tspan></text>
<text x="356.5" y="748.4" text-anchor="middle" class="td">-5.2</text>
<text x="356.5" y="758.2" text-anchor="middle" class="td">(-11.8:1.5)</text>
<text x="400.0" y="753.6" text-anchor="middle" class="td">.125</text>
<text x="445.8" y="748.4" text-anchor="middle" class="td">-4.1&#8225;</text>
<text x="445.8" y="758.2" text-anchor="middle" class="td">(-8.1:0.1)</text>
<text x="498.8" y="753.6" text-anchor="middle" class="td">.042&#167;</text>
<text x="20.0" y="774.0" text-anchor="middle" class="th">40-59</text>
<text x="67.5" y="769.4" text-anchor="middle" class="td">-7.1</text>
<text x="67.5" y="779.2" text-anchor="middle" class="td">(-11.1:-3.0)</text>
<text x="114.0" y="774.6" text-anchor="middle" class="td">&lt;.001<tspan style="font-size:8.6px" dy="-0.3">*</tspan></text>
<text x="163.5" y="769.4" text-anchor="middle" class="td">-5.9</text>
<text x="163.5" y="779.2" text-anchor="middle" class="td">(-10.5:-1.4)</text>
<text x="213.0" y="774.6" text-anchor="middle" class="td">.011</text>
<text x="260.0" y="769.4" text-anchor="middle" class="td">-14.4&#8225;</text>
<text x="260.0" y="779.2" text-anchor="middle" class="td">(-22.2:-6.5)</text>
<text x="308.0" y="774.6" text-anchor="middle" class="td">&lt;.001<tspan style="font-size:8.6px" dy="-0.3">*</tspan></text>
<text x="356.5" y="769.4" text-anchor="middle" class="td">-0.16</text>
<text x="356.5" y="779.2" text-anchor="middle" class="td">(-4.0:3.7)</text>
<text x="400.0" y="774.6" text-anchor="middle" class="td">.934</text>
<text x="445.8" y="769.4" text-anchor="middle" class="td">-1.3</text>
<text x="445.8" y="779.2" text-anchor="middle" class="td">(-3.3:0.7)</text>
<text x="498.8" y="774.6" text-anchor="middle" class="td">.204</text>
<text x="20.0" y="795.0" text-anchor="middle" class="th">60-69</text>
<text x="67.5" y="790.4" text-anchor="middle" class="td">-1.9</text>
<text x="67.5" y="800.2" text-anchor="middle" class="td">(-7.9;4.1)</text>
<text x="114.0" y="795.6" text-anchor="middle" class="td">.528</text>
<text x="163.5" y="790.4" text-anchor="middle" class="td">-0.3</text>
<text x="163.5" y="800.2" text-anchor="middle" class="td">(-7.3:6.6)</text>
<text x="213.0" y="795.6" text-anchor="middle" class="td">.921</text>
<text x="260.0" y="790.4" text-anchor="middle" class="td">-0.8</text>
<text x="260.0" y="800.2" text-anchor="middle" class="td">(-12.8:11.2)</text>
<text x="308.0" y="795.6" text-anchor="middle" class="td">.891</text>
<text x="356.5" y="790.4" text-anchor="middle" class="td">2.6</text>
<text x="356.5" y="800.2" text-anchor="middle" class="td">(-3.8:9.1)</text>
<text x="400.0" y="795.6" text-anchor="middle" class="td">.424</text>
<text x="445.8" y="790.4" text-anchor="middle" class="td">0.1</text>
<text x="445.8" y="800.2" text-anchor="middle" class="td">(-2.6:2.8)</text>
<text x="498.8" y="795.6" text-anchor="middle" class="td">.930</text>
<text x="20.0" y="816.0" text-anchor="middle" class="th">&#8805; 70</text>
<text x="67.5" y="811.4" text-anchor="middle" class="td">-1.1</text>
<text x="67.5" y="821.2" text-anchor="middle" class="td">(-7.9;5.8)</text>
<text x="114.0" y="816.6" text-anchor="middle" class="td">.758</text>
<text x="163.5" y="811.4" text-anchor="middle" class="td">6.2</text>
<text x="163.5" y="821.2" text-anchor="middle" class="td">(-1.9:14.3)</text>
<text x="213.0" y="816.6" text-anchor="middle" class="td">.132</text>
<text x="260.0" y="811.4" text-anchor="middle" class="td">-2.7</text>
<text x="260.0" y="821.2" text-anchor="middle" class="td">(-16.1:10.7)</text>
<text x="308.0" y="816.6" text-anchor="middle" class="td">.693</text>
<text x="356.5" y="811.4" text-anchor="middle" class="td">2.6</text>
<text x="356.5" y="821.2" text-anchor="middle" class="td">(-4.4:9.7)</text>
<text x="400.0" y="816.6" text-anchor="middle" class="td">.462</text>
<text x="445.8" y="811.4" text-anchor="middle" class="td">0.4</text>
<text x="445.8" y="821.2" text-anchor="middle" class="td">(-2.4:3.2)</text>
<text x="498.8" y="816.6" text-anchor="middle" class="td">.785</text>
</svg>
</body></html>
